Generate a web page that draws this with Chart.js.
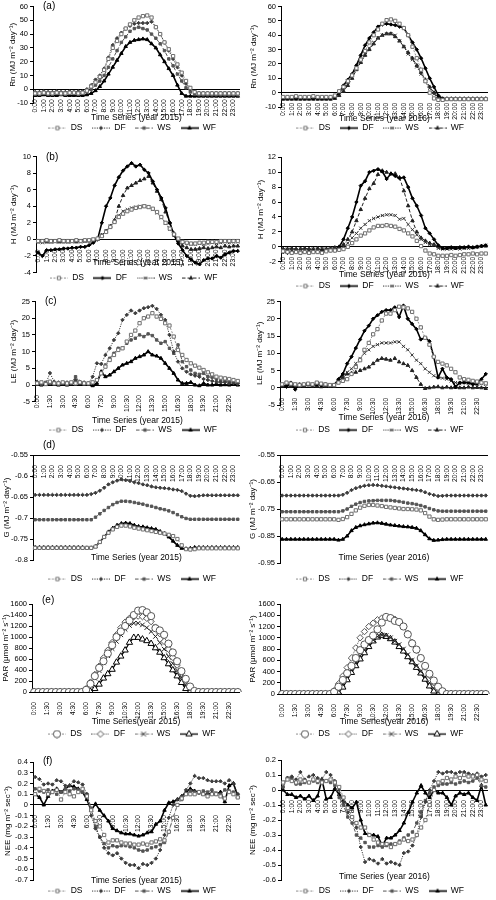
<!DOCTYPE html>
<html><head><meta charset="utf-8">
<script src="https://cdn.jsdelivr.net/npm/chart.js@4.4.1/dist/chart.umd.min.js"></script>
<style>
html,body{margin:0;padding:0;background:#fff;}
body{width:496px;height:900px;position:relative;overflow:hidden;}
.p{position:absolute;width:248px;}
</style></head><body>
<script>
// ---------- categories & series ----------
const TIMES = ['0:00','0:30','1:00','1:30','2:00','2:30','3:00','3:30','4:00','4:30','5:00','5:30','6:00','6:30','7:00','7:30','8:00','8:30','9:00','9:30','10:00','10:30','11:00','11:30','12:00','12:30','13:00','13:30','14:00','14:30','15:00','15:30','16:00','16:30','17:00','17:30','18:00','18:30','19:00','19:30','20:00','20:30','21:00','21:30','22:00','22:30','23:00','23:30'];
const SERIES = ['DS','DF','WS','WF'];

// ---------- y tick labels ----------
const Y_RN = [60,50,40,30,20,10,0,-10];
const Y_H15 = [10,8,6,4,2,0,-2,-4];
const Y_H16 = [12,10,8,6,4,2,0,-2];
const Y_LE = [25,20,15,10,5,0,-5];
const Y_G15 = [-0.55,-0.6,-0.65,-0.7,-0.75,-0.8];
const Y_G16 = [-0.55,-0.65,-0.75,-0.85,-0.95];
const Y_PAR = [1600,1400,1200,1000,800,600,400,200,0];
const Y_NEE15 = [0.4,0.3,0.2,0.1,0,-0.1,-0.2,-0.3,-0.4,-0.5,-0.6,-0.7];
const Y_NEE16 = [0.2,0.1,0,-0.1,-0.2,-0.3,-0.4,-0.5,-0.6];

// ---------- (a) Rn ----------
const RN15_DS = [-3,-3,-2.5,-3,-3,-2.5,-3,-3,-2.5,-2.5,-3,-2.5,-1,2,5,9,14,22,30,35,40,44,47,50,52,53,53.5,52,45,40,34,29,24,18,12,6,1,-2,-3,-3,-3,-3,-3,-3,-3,-3,-3,-3];
const RN15_DF = [-2,-2,-1.5,-2,-2,-1.5,-2,-2,-1.5,-2,-1.5,-1.5,0,3,7,10,15,23,32,37,41,44,46,47.5,48,48,48,49,45,40,34,28,22,16,10,4,0,-2,-2.5,-2.5,-2.5,-2.5,-2.5,-2.5,-2.5,-2.5,-2.5,-2.5];
const RN15_WS = [-3.5,-3.5,-3,-3.5,-3.5,-3,-3.5,-3.5,-3,-3,-3.5,-3,-2,0,3,6,10,16,22,28,34,38,42,44,45,44,43,40,37,33,28,22,17,11,6,1,-2,-3.5,-4,-4,-4,-4,-4,-4,-4,-4,-4,-4];
const RN15_WF = [-4.5,-4.5,-4,-4.5,-4.5,-4.5,-4,-4.5,-4.5,-4.5,-4.5,-4.5,-4,-3,-1,2,6,11,16,21,26,31,34,35.5,36,36.5,36,33,30,25,20,15,10,3,-3,-5,-5,-5,-5,-5,-5,-5,-5,-5,-5,-5,-5,-5];
const RN16_DS = [-3,-3,-3,-2.5,-3,-3,-3,-2.5,-3,-3,-3,-3,-2,1,4,8,12,17,23,29,35,40,44,48,50.5,51,50,48,45,40,32,24,16,8,0,-4,-5,-5,-4.5,-4.5,-4.5,-4.5,-4.5,-4.5,-4.5,-4.5,-4.5,-4.5];
const RN16_DF = [-4,-4,-4,-4,-4,-4,-4,-4,-4,-4,-4,-4,-3,0,5,9,13,19,26,33,38,42,46,47.5,48,47.5,47,46,45,40,35,30,24,17,10,4,-2,-4,-4,-4,-4,-4,-4,-4,-4,-4,-4,-4];
const RN16_WS = [-4,-4,-4,-4,-4,-4,-4,-4,-4,-4,-4,-4,-3,0,3,7,12,17,22,27,31,35,38,40,41,41,40,36,32,27,23,18,13,8,3,-1,-4,-4.5,-4.5,-4.5,-4.5,-4.5,-4.5,-4.5,-4.5,-4.5,-4.5,-4.5];
const RN16_WF = [-4.5,-4.5,-4.5,-4.5,-4.5,-4.5,-4.5,-4.5,-4.5,-4.5,-4.5,-4.5,-4,-2,1,5,10,16,21,26,30,34,38,40,41,41,39,36,32,28,24,19,14,9,4,0,-3,-4.5,-4.5,-4.5,-4.5,-4.5,-4.5,-4.5,-4.5,-4.5,-4.5,-4.5];

// ---------- (b) H ----------
const H15_DS = [-0.2,-0.2,-0.1,-0.2,-0.2,-0.1,-0.2,-0.2,-0.2,-0.1,-0.2,-0.1,-0.1,0,0.1,0.4,0.9,1.5,2.1,2.7,3.1,3.4,3.6,3.8,3.9,4.0,3.9,3.7,3.3,2.7,2.0,1.3,0.6,0.1,-0.3,-0.4,-0.5,-0.5,-0.4,-0.4,-0.3,-0.3,-0.3,-0.2,-0.2,-0.2,-0.2,-0.2];
const H15_DF = [-1.6,-2.0,-1.3,-1.3,-1.2,-1.2,-1.1,-1.1,-1.0,-1.0,-0.9,-0.9,-0.7,-0.4,0,2.0,4.0,5.0,6.5,7.5,8.3,8.8,9.2,8.8,9.0,8.4,8.0,7.0,6.0,5.0,3.8,2.0,0.5,-0.5,-1.3,-2.0,-2.4,-2.8,-3.0,-2.5,-2.3,-2.3,-2.0,-2.2,-1.8,-1.6,-1.4,-1.4];
const H15_WS = [-0.3,-0.4,-0.3,-0.3,-0.3,-0.3,-0.2,-0.3,-0.3,-0.2,-0.3,-0.2,-0.1,0,0.1,0.5,1.0,1.6,2.3,2.9,3.4,3.6,3.8,3.9,4.0,4.0,3.9,3.6,3.2,2.6,2.0,1.2,0.5,0,-0.3,-0.5,-0.6,-0.6,-0.5,-0.6,-0.5,-0.4,-0.5,-0.4,-0.3,-0.4,-0.3,-0.3];
const H15_WF = [-0.3,-0.2,-0.3,-0.3,-0.2,-0.3,-0.3,-0.3,-0.2,-0.3,-0.2,-0.2,-0.2,-0.1,0,0.5,1.0,1.6,2.3,4.0,5.3,6.2,6.5,6.8,7.1,7.3,7.6,6.8,5.8,4.8,3.3,2.0,0.7,-0.2,-0.8,-1.0,-1.2,-1.2,-1.1,-1.0,-1.1,-1.0,-0.9,-1.0,-0.8,-0.9,-0.8,-0.8];
const H16_DS = [-0.6,-0.7,-0.8,-0.7,-0.8,-0.7,-0.8,-0.7,-0.7,-0.8,-0.6,-0.5,-0.5,-0.4,-0.3,0,0.5,1.0,1.5,1.8,2.2,2.6,2.8,2.8,2.9,2.8,2.7,2.4,2.2,1.8,1.4,0.8,0.1,-0.5,-0.9,-1.0,-1.2,-1.2,-1.2,-1.1,-1.2,-1.1,-1.0,-1.0,-0.9,-1.0,-0.9,-0.9];
const H16_DF = [-0.7,-0.8,-0.7,-0.7,-0.8,-0.7,-0.7,-0.6,-0.7,-0.6,-0.6,-0.5,-0.5,0,1.0,2.5,4.0,6.0,8.2,8.8,10.0,10.2,10.4,10.1,9.1,9.8,9.5,9.2,9.3,8.0,6.5,5.5,4.2,2.5,1.8,1.0,0.2,-0.2,-0.2,-0.1,-0.2,-0.1,-0.1,0,-0.1,0,0.1,0.2];
const H16_WS = [-0.4,-0.3,-0.4,-0.4,-0.3,-0.4,-0.4,-0.3,-0.4,-0.3,-0.3,-0.3,-0.2,-0.1,0,0.5,1.2,1.8,2.5,3.0,3.5,3.8,4.0,4.2,4.3,4.3,4.2,3.7,3.8,3.0,2.3,1.6,1.0,0.6,0.3,0.2,-0.2,-0.3,-0.3,-0.3,-0.2,-0.3,-0.2,-0.2,-0.1,0,0.1,0.2];
const H16_WF = [-0.3,-0.3,-0.2,-0.3,-0.3,-0.2,-0.3,-0.3,-0.2,-0.3,-0.3,-0.2,-0.1,0,0.3,1.0,2.0,3.5,5.0,6.5,7.8,8.5,9.7,10.2,10.0,9.8,9.8,9.3,7.5,5.5,3.5,2.0,1.2,0.8,0.5,0.3,0,-0.2,-0.2,-0.1,-0.2,-0.1,-0.1,0,-0.1,0,0.1,0.1];

// ---------- (c) LE ----------
const LE15_DS = [0.5,0.8,0.3,1.0,0.5,0.5,0.8,0.5,0.8,0.5,0.8,0.5,0.5,0.8,1.5,3.5,5.5,7.5,9.0,10.5,11.0,13.0,15.0,16.3,18.5,20.0,20.5,21.5,20.5,19.8,18.5,17.8,14.5,10.5,9.0,7.5,6.5,5.8,5.2,4.5,3.8,3.2,2.5,2.2,2.0,1.8,1.5,1.2];
const LE15_DF = [1.0,0.5,0.3,3.6,1.0,0.8,0.5,0.8,0.6,1.5,1.0,0.8,0.5,2.5,6.5,6.3,9.0,11.0,13.5,15.5,19.5,21.0,22.3,21.5,22.3,23.0,23.3,23.7,22.8,21.0,19.5,15.0,10.0,7.0,5.0,4.0,3.2,2.8,2.5,1.8,1.5,1.2,1.0,0.8,0.8,0.5,0.6,0.4];
const LE15_WS = [0.5,0.3,0.8,0.5,0.5,0.3,0.5,0.2,0.5,2.5,0.8,0.5,0.5,0.8,1.5,3.5,6.0,8.0,9.5,11.0,11.0,12.5,13.5,14.0,15.0,14.5,15.3,14.8,13.5,12.5,13.0,11.0,9.5,12.0,7.0,5.5,4.5,3.5,3.2,3.5,2.5,2.3,1.8,1.2,1.2,1.0,0.8,0.6];
const LE15_WF = [0.2,0,0.3,0.5,0.2,0,0.3,0,0.2,1.0,0.5,0.3,0.2,-0.2,0.5,4.0,2.5,3.0,4.0,5.0,6.0,6.5,7.0,8.0,8.5,9.0,10.0,9.0,8.7,8.0,6.5,5.0,3.5,1.5,0.5,0.5,0.8,0,-0.2,0.5,0,0,0.2,0,0.1,0,0.2,0];
const LE16_DS = [1.0,1.5,1.2,1.0,0.8,1.0,1.2,1.0,1.5,1.2,1.0,0.8,0.8,1.5,2.0,2.5,4.0,6.0,8.0,11.0,13.0,15.5,17.0,19.5,21.5,21.5,22.5,23.5,23.3,23.0,22.0,20.0,17.5,14.5,12.5,9.0,7.5,7.0,6.5,5.5,4.5,3.0,2.5,2.3,2.0,1.8,1.5,1.3];
const LE16_DF = [0.8,0.3,1.5,-0.5,1.0,0.8,1.0,0.8,1.0,0.8,1.0,0.5,0.8,2.5,4.0,7.0,9.0,11.5,14.0,16.5,18.0,20.0,21.0,22.0,22.5,22.5,23.3,20.5,23.8,20.0,18.5,17.0,14.0,14.5,13.5,9.0,3.0,5.5,3.0,2.5,0.3,1.5,1.5,1.5,1.0,1.2,2.5,4.0];
const LE16_WS = [1.0,1.2,0.8,1.0,1.0,0.8,1.0,1.0,0.8,1.0,0.8,0.8,0.8,2.0,3.5,4.5,5.5,7.0,8.5,10.0,11.0,12.0,12.5,13.0,13.0,13.0,13.3,13.3,12.0,11.0,9.5,8.0,7.0,5.5,4.5,3.5,3.0,2.8,2.5,2.0,1.5,1.2,1.5,1.3,1.2,1.0,1.2,1.0];
const LE16_WF = [0.5,0.8,0.5,0.3,0.5,0.5,0.8,0.5,0.5,0.3,0.5,0.5,0.5,2.0,3.0,4.0,4.2,4.5,5.0,5.5,6.0,7.0,8.0,8.5,8.3,8.0,8.5,7.5,7.0,6.5,5.0,3.0,1.0,-0.2,0,0.2,0.3,0,0.2,0,0.1,0,0,0.2,0,0.1,0,-0.2];

// ---------- (d) G ----------
const G15_DS = [-0.771,-0.771,-0.771,-0.771,-0.771,-0.771,-0.771,-0.771,-0.771,-0.771,-0.771,-0.771,-0.771,-0.771,-0.768,-0.757,-0.745,-0.735,-0.727,-0.721,-0.718,-0.718,-0.72,-0.723,-0.725,-0.727,-0.729,-0.731,-0.733,-0.735,-0.737,-0.74,-0.743,-0.75,-0.765,-0.774,-0.775,-0.774,-0.772,-0.772,-0.772,-0.772,-0.772,-0.772,-0.772,-0.772,-0.772,-0.772];
const G15_DF = [-0.645,-0.645,-0.645,-0.645,-0.645,-0.645,-0.645,-0.645,-0.645,-0.645,-0.645,-0.645,-0.645,-0.643,-0.64,-0.635,-0.628,-0.62,-0.615,-0.611,-0.608,-0.61,-0.612,-0.615,-0.617,-0.62,-0.622,-0.625,-0.627,-0.628,-0.629,-0.63,-0.632,-0.633,-0.636,-0.642,-0.647,-0.648,-0.647,-0.646,-0.646,-0.646,-0.646,-0.646,-0.646,-0.646,-0.646,-0.646];
const G15_WS = [-0.704,-0.704,-0.704,-0.704,-0.704,-0.704,-0.704,-0.704,-0.704,-0.704,-0.704,-0.704,-0.704,-0.704,-0.698,-0.69,-0.682,-0.675,-0.668,-0.663,-0.66,-0.66,-0.661,-0.663,-0.665,-0.667,-0.67,-0.672,-0.675,-0.678,-0.68,-0.683,-0.687,-0.692,-0.697,-0.701,-0.703,-0.703,-0.703,-0.703,-0.703,-0.703,-0.703,-0.703,-0.703,-0.703,-0.703,-0.703];
const G15_WF = [-0.77,-0.77,-0.77,-0.77,-0.77,-0.77,-0.77,-0.77,-0.77,-0.77,-0.77,-0.77,-0.771,-0.771,-0.768,-0.757,-0.745,-0.733,-0.724,-0.717,-0.713,-0.712,-0.713,-0.717,-0.72,-0.721,-0.723,-0.725,-0.727,-0.732,-0.737,-0.745,-0.755,-0.765,-0.772,-0.773,-0.772,-0.77,-0.77,-0.77,-0.77,-0.77,-0.77,-0.77,-0.77,-0.77,-0.77,-0.77];
const G16_DS = [-0.788,-0.788,-0.788,-0.788,-0.788,-0.788,-0.788,-0.788,-0.788,-0.788,-0.788,-0.788,-0.788,-0.79,-0.787,-0.78,-0.768,-0.755,-0.745,-0.738,-0.735,-0.735,-0.737,-0.739,-0.742,-0.744,-0.746,-0.748,-0.75,-0.75,-0.751,-0.752,-0.755,-0.765,-0.778,-0.788,-0.79,-0.789,-0.788,-0.788,-0.788,-0.788,-0.788,-0.788,-0.788,-0.788,-0.788,-0.788];
const G16_DF = [-0.70,-0.70,-0.70,-0.70,-0.70,-0.70,-0.70,-0.70,-0.70,-0.70,-0.70,-0.70,-0.70,-0.70,-0.697,-0.69,-0.68,-0.673,-0.668,-0.664,-0.662,-0.661,-0.662,-0.664,-0.666,-0.668,-0.67,-0.672,-0.674,-0.676,-0.678,-0.68,-0.682,-0.688,-0.694,-0.698,-0.702,-0.701,-0.70,-0.70,-0.70,-0.70,-0.70,-0.70,-0.70,-0.70,-0.70,-0.70];
const G16_WS = [-0.76,-0.76,-0.76,-0.76,-0.76,-0.76,-0.76,-0.76,-0.76,-0.76,-0.76,-0.76,-0.76,-0.76,-0.757,-0.75,-0.74,-0.732,-0.726,-0.722,-0.72,-0.719,-0.718,-0.718,-0.718,-0.718,-0.72,-0.722,-0.725,-0.728,-0.73,-0.733,-0.737,-0.742,-0.748,-0.753,-0.757,-0.758,-0.758,-0.758,-0.758,-0.758,-0.758,-0.758,-0.758,-0.758,-0.758,-0.758];
const G16_WF = [-0.862,-0.862,-0.862,-0.862,-0.862,-0.862,-0.862,-0.862,-0.862,-0.862,-0.862,-0.862,-0.862,-0.865,-0.862,-0.85,-0.83,-0.818,-0.812,-0.808,-0.805,-0.802,-0.801,-0.803,-0.806,-0.809,-0.811,-0.813,-0.815,-0.816,-0.818,-0.821,-0.83,-0.845,-0.86,-0.866,-0.865,-0.863,-0.862,-0.862,-0.862,-0.862,-0.862,-0.862,-0.862,-0.862,-0.862,-0.862];

// ---------- (e) PAR ----------
const PAR15_DS = [0,0,0,0,0,0,0,0,0,0,0,0,40,150,290,440,560,700,850,1000,1100,1200,1300,1400,1480,1490,1450,1380,1160,1120,1040,880,720,560,380,240,100,20,0,0,0,0,0,0,0,0,0,0];
const PAR15_DF = [0,0,0,0,0,0,0,0,0,0,0,0,60,180,320,470,620,760,900,1040,1170,1270,1340,1370,1380,1370,1340,1280,1180,1060,920,780,630,490,340,200,80,20,0,0,0,0,0,0,0,0,0,0];
const PAR15_WS = [0,0,0,0,0,0,0,0,0,0,0,0,20,120,250,390,530,660,790,920,1040,1140,1210,1250,1250,1220,1170,1100,1010,900,780,650,520,390,260,140,50,0,0,0,0,0,0,0,0,0,0,0];
const PAR15_WF = [0,0,0,0,0,0,0,0,0,0,0,0,0,10,60,140,250,330,410,540,650,760,900,990,990,960,930,880,800,720,620,510,400,290,170,60,10,0,0,0,0,0,0,0,0,0,0,0];
const PAR16_DS = [0,0,0,0,0,0,0,0,0,0,0,0,40,130,250,370,500,640,780,880,960,1040,1150,1270,1370,1350,1300,1280,1200,1060,900,790,640,500,360,240,130,50,0,0,0,0,0,0,0,0,0,0];
const PAR16_DF = [0,0,0,0,0,0,0,0,0,0,0,0,60,180,320,470,640,820,1000,1110,1200,1260,1320,1350,1380,1360,1330,1270,1200,1080,920,780,620,480,330,200,90,20,0,0,0,0,0,0,0,0,0,0];
const PAR16_WS = [0,0,0,0,0,0,0,0,0,0,0,0,10,60,170,300,420,550,680,780,880,960,1020,1050,1040,1000,940,880,800,700,600,500,400,300,200,100,30,0,0,0,0,0,0,0,0,0,0,0];
const PAR16_WF = [0,0,0,0,0,0,0,0,0,0,0,0,0,30,120,250,380,500,620,730,840,940,1010,1040,1020,980,920,840,760,660,570,470,370,260,140,50,0,0,0,0,0,0,0,0,0,0,0,0];

// ---------- (f) NEE ----------
const NEE15_DS = [0.1,0.15,0.13,0.1,0.12,0.14,0.05,0.12,0.1,0.08,0.12,0.15,0.08,-0.05,-0.15,-0.2,-0.28,-0.35,-0.33,-0.33,-0.35,-0.36,-0.36,-0.37,-0.37,-0.36,-0.37,-0.35,-0.34,-0.32,-0.33,-0.25,-0.12,0.0,0.06,0.1,0.1,0.1,0.12,0.1,0.08,0.1,0.1,0.08,0.06,0.12,0.1,0.07];
const NEE15_DF = [0.26,0.24,0.19,0.2,0.19,0.23,0.22,0.18,0.18,0.22,0.21,0.19,0.1,-0.1,-0.22,-0.3,-0.4,-0.45,-0.47,-0.45,-0.5,-0.54,-0.56,-0.56,-0.59,-0.55,-0.56,-0.54,-0.5,-0.42,-0.28,-0.12,0.0,0.05,0.08,0.14,0.2,0.27,0.25,0.25,0.23,0.22,0.22,0.22,0.2,0.23,0.2,0.1];
const NEE15_WS = [0.15,0.13,0.12,0.14,0.12,0.1,0.12,0.15,0.13,0.15,0.14,0.12,0.1,-0.03,-0.2,-0.3,-0.36,-0.4,-0.38,-0.39,-0.38,-0.38,-0.39,-0.4,-0.42,-0.43,-0.42,-0.4,-0.39,-0.37,-0.35,-0.25,-0.12,0.0,0.05,0.1,0.13,0.12,0.11,0.13,0.12,0.14,0.11,0.1,0.14,0.13,0.12,0.1];
const NEE15_WF = [0.1,0.07,0.0,0.08,0.13,0.15,0.12,0.15,0.18,0.17,0.15,0.12,0.05,-0.05,0.01,-0.05,-0.1,-0.15,-0.22,-0.24,-0.26,-0.27,-0.27,-0.28,-0.29,-0.28,-0.26,-0.25,-0.18,-0.15,-0.05,0.02,0.03,0.05,0.08,0.12,0.15,0.13,0.12,0.1,0.1,0.11,0.1,0.12,0.03,0.18,0.2,0.08];
const NEE16_DS = [0.05,0.07,0.06,0.05,0.07,0.06,0.05,0.07,0.06,0.05,0.06,0.07,0.05,0.02,-0.05,-0.12,-0.18,-0.22,-0.25,-0.25,-0.3,-0.33,-0.35,-0.36,-0.36,-0.38,-0.36,-0.35,-0.33,-0.34,-0.33,-0.3,-0.25,-0.2,-0.1,0.0,0.05,0.06,0.08,0.07,0.09,0.08,0.1,0.09,0.09,0.1,0.07,0.06];
const NEE16_DF = [0.05,0.08,0.09,0.07,0.12,0.07,0.09,0.1,0.08,0.07,0.12,0.1,0.06,0.0,-0.08,-0.15,-0.18,-0.25,-0.38,-0.48,-0.46,-0.47,-0.49,-0.46,-0.49,-0.48,-0.49,-0.5,-0.42,-0.41,-0.37,-0.3,-0.18,-0.08,0.0,0.06,0.12,0.11,0.12,0.12,0.11,0.12,0.12,0.11,0.1,0.11,0.09,0.1];
const NEE16_WS = [0.02,0.08,0.08,0.04,0.04,0.05,0.05,0.06,0.05,0.06,0.06,0.05,0.03,-0.05,-0.1,-0.18,-0.22,-0.3,-0.32,-0.35,-0.38,-0.38,-0.37,-0.38,-0.37,-0.36,-0.36,-0.34,-0.32,-0.3,-0.28,-0.22,-0.15,-0.07,-0.02,0.02,0.03,0.04,0.04,0.05,0.04,0.05,0.06,0.05,0.06,0.08,0.03,0.02];
const NEE16_WF = [0.0,-0.03,-0.03,-0.05,-0.04,-0.06,-0.04,-0.07,-0.04,0.07,-0.06,-0.05,0.01,-0.03,-0.07,-0.1,-0.12,-0.08,-0.2,-0.29,-0.3,-0.3,-0.31,-0.37,-0.32,-0.32,-0.3,-0.27,-0.22,-0.15,-0.08,-0.02,0.03,-0.02,-0.05,0.0,-0.02,-0.02,-0.05,-0.1,-0.04,-0.02,-0.03,-0.02,-0.05,-0.07,0.03,-0.1];

// ---------- styles ----------
const FONT = '"Liberation Sans", Arial, Helvetica, sans-serif';
const STY = {
  DS:  {line:'#8f8f8f', bw:1,   dash:[2,1.5],   ps:'rect',     r:2.3, fill:'#fff',    pb:'#6e6e6e'},
  DFd: {line:'#3c3c3c', bw:1,   dash:[1.2,1.2], ps:'rectRot',  r:1.7, fill:'#3c3c3c', pb:'#3c3c3c'},
  DFs: {line:'#000',    bw:1.6, dash:[],        ps:'rectRot',  r:1.7, fill:'#000',    pb:'#000'},
  WSq: {line:'#555',    bw:1,   dash:[3.5,2],   ps:'rect',     r:1.7, fill:'#555',    pb:'#555'},
  WSx: {line:'#333',    bw:1,   dash:[1.2,1.2], ps:'crossRot', r:2.2, fill:'#333',    pb:'#333'},
  WFs: {line:'#000',    bw:1.6, dash:[],        ps:'triangle', r:2,   fill:'#000',    pb:'#000'},
  WFd: {line:'#222',    bw:1,   dash:[3.5,2],   ps:'triangle', r:2,   fill:'#222',    pb:'#222'},
  DSe: {line:'#8f8f8f', bw:1,   dash:[2,1.5],   ps:'circle',   r:3.6, fill:'#fff',    pb:'#555'},
  DFe: {line:'#555',    bw:1,   dash:[1.2,1.2], ps:'rectRot',  r:3.2, fill:'#fff',    pb:'#555'},
  WSe: {line:'#777',    bw:1,   dash:[3.5,2],   ps:'crossRot', r:3.2, fill:'#fff',    pb:'#222'},
  WFe: {line:'#000',    bw:1.3, dash:[],        ps:'triangle', r:3.6, fill:'#fff',    pb:'#000'}
};
const SET_A = [STY.DS, STY.DFd, STY.WSq, STY.WFs];
const SET_B = [STY.DS, STY.DFs, STY.WSx, STY.WFd];
const SET_E = [STY.DSe, STY.DFe, STY.WSe, STY.WFe];

const PANELS = [
 {g:{L:0,T:0,padL:8.2,axisX:33,top:5,bot:103,tY:118,lY:128}, data:[RN15_DS,RN15_DF,RN15_WS,RN15_WF], sty:SET_A, yt:Y_RN, yTitle:'Rn (MJ m\u207B\u00B2 day\u207B\u00B9)', xTitle:'Time Series (year 2015)', step:2, axisAt:0, tag:'(a)', tagY:6},
 {g:{L:248,T:0,padL:1.2,axisX:33,top:5,bot:107,tY:119,lY:128}, data:[RN16_DS,RN16_DF,RN16_WS,RN16_WF], sty:SET_B, yt:Y_RN, yTitle:'Rn (MJ m\u207B\u00B2 day\u207B\u00B9)', xTitle:'Time Series (year 2016)', step:2, axisAt:0},
 {g:{L:0,T:150,padL:9.2,axisX:36,top:5.5,bot:122.5,tY:113,lY:128}, data:[H15_DS,H15_DF,H15_WS,H15_WF], sty:SET_B, yt:Y_H15, yTitle:'H (MJ m\u207B\u00B2 day\u207B\u00B9)', xTitle:'Time Series (year 2015)', step:2, axisAt:0, tag:'(b)', tagY:7},
 {g:{L:248,T:150,padL:8.2,axisX:33,top:7.3,bot:111.7,tY:125,lY:136}, data:[H16_DS,H16_DF,H16_WS,H16_WF], sty:SET_B, yt:Y_H16, yTitle:'H (MJ m\u207B\u00B2 day\u207B\u00B9)', xTitle:'Time Series (year 2016)', step:2, axisAt:0},
 {g:{L:0,T:295,padL:9.2,axisX:35,top:5.7,bot:106.7,tY:126,lY:135}, data:[LE15_DS,LE15_DF,LE15_WS,LE15_WF], sty:SET_A, yt:Y_LE, yTitle:'LE (MJ m\u207B\u00B2 day\u207B\u00B9)', xTitle:'Time Series (year 2015)', step:3, axisAt:0, tag:'(c)', tagY:6},
 {g:{L:248,T:295,padL:7.2,axisX:32,top:5,bot:110,tY:123,lY:135}, data:[LE16_DS,LE16_DF,LE16_WS,LE16_WF], sty:SET_B, yt:Y_LE, yTitle:'LE (MJ m\u207B\u00B2 day\u207B\u00B9)', xTitle:'Time Series (year 2016)', step:3, axisAt:0},
 {g:{L:0,T:440,padL:2.2,axisX:33,top:15,bot:120,tY:118,lY:139}, data:[G15_DS,G15_DF,G15_WS,G15_WF], sty:SET_A, yt:Y_G15, yTitle:'G (MJ m\u207B\u00B2 day\u207B\u00B9)', xTitle:'Time Series (year 2015)', step:2, axisAt:-0.55, tag:'(d)', tagY:5},
 {g:{L:248,T:440,padL:0.2,axisX:32,top:15,bot:123,tY:118,lY:139}, data:[G16_DS,G16_DF,G16_WS,G16_WF], sty:SET_A, yt:Y_G16, yTitle:'G (MJ m\u207B\u00B2 day\u207B\u00B9)', xTitle:'Time Series (year 2016)', step:2, axisAt:-0.55},
 {g:{L:0,T:585,padL:1.2,axisX:32,top:19,bot:107,tY:137,lY:149}, data:[PAR15_DS,PAR15_DF,PAR15_WS,PAR15_WF], sty:SET_E, yt:Y_PAR, yTitle:'PAR (\u03BCmol m\u207B\u00B2 s\u207B\u00B9)', xTitle:'Time Series(year 2015)', step:3, axisAt:0, tag:'(e)', tagY:15},
 {g:{L:248,T:585,padL:0.2,axisX:32,top:19,bot:109,tY:137,lY:149}, data:[PAR16_DS,PAR16_DF,PAR16_WS,PAR16_WF], sty:SET_E, yt:Y_PAR, yTitle:'PAR (\u03BCmol m\u207B\u00B2 s\u207B\u00B9)', xTitle:'Time Series(year 2016)', step:3, axisAt:0},
 {g:{L:0,T:745,padL:3.2,axisX:33,top:17,bot:135,tY:136,lY:146}, data:[NEE15_DS,NEE15_DF,NEE15_WS,NEE15_WF], sty:SET_A, yt:Y_NEE15, yTitle:'NEE (mg m\u207B\u00B2 sec\u207B\u00B9)', xTitle:'Time Series (year 2015)', step:3, axisAt:0, tag:'(f)', tagY:16},
 {g:{L:248,T:745,padL:0.2,axisX:33,top:15,bot:135,tY:132,lY:146}, data:[NEE16_DS,NEE16_DF,NEE16_WS,NEE16_WF], sty:SET_A, yt:Y_NEE16, yTitle:'NEE (mg m\u207B\u00B2 sec\u207B\u00B9)', xTitle:'Time Series (year 2016)', step:2, axisAt:0}
];

// ---------- helpers ----------
function marker(g, ps, x, y, r) {
  g.beginPath();
  if (ps === 'circle') { g.arc(x, y, r, 0, Math.PI * 2); }
  else if (ps === 'rect') { const s = r * Math.SQRT1_2; g.rect(x - s, y - s, 2 * s, 2 * s); }
  else if (ps === 'rectRot') { g.moveTo(x, y - r); g.lineTo(x + r, y); g.lineTo(x, y + r); g.lineTo(x - r, y); g.closePath(); }
  else if (ps === 'triangle') { g.moveTo(x, y - r); g.lineTo(x + r * 0.866, y + r * 0.5); g.lineTo(x - r * 0.866, y + r * 0.5); g.closePath(); }
  else if (ps === 'crossRot') { const s = r * 0.707; g.moveTo(x - s, y - s); g.lineTo(x + s, y + s); g.moveTo(x + s, y - s); g.lineTo(x - s, y + s); }
  if (ps !== 'crossRot') g.fill();
  g.stroke();
}
function sample(st) {
  const w = 18, h = 9;
  const c = document.createElement('canvas'); c.width = w; c.height = h;
  const g = c.getContext('2d');
  g.strokeStyle = st.line; g.lineWidth = st.bw; g.setLineDash(st.dash);
  g.beginPath(); g.moveTo(0, h / 2); g.lineTo(w, h / 2); g.stroke();
  g.setLineDash([]); g.fillStyle = st.fill; g.strokeStyle = st.pb; g.lineWidth = 1;
  marker(g, st.ps, w / 2, h / 2, Math.min(st.r, 3.6));
  return c;
}

Chart.defaults.font.family = FONT;
Chart.defaults.color = '#000';
Chart.defaults.animation = false;

const tagPlugin = {
  id: 'tag',
  afterDraw(chart, args, opts) {
    if (!opts || !opts.text) return;
    const ctx = chart.ctx;
    ctx.save();
    ctx.font = '10px ' + FONT;
    ctx.fillStyle = '#000';
    ctx.textBaseline = 'middle';
    ctx.fillText(opts.text, chart.chartArea.left + 10, opts.y);
    ctx.restore();
  }
};
Chart.register(tagPlugin);

const FS = 8.5, LP = 1, LH = FS * 1.2;

PANELS.forEach((P) => {
  const g = P.g;
  const legTop = g.lY - LP - FS / 2;
  const H = legTop + FS + LP + 10;
  const tH = Math.max(0, legTop - g.bot);
  const pt = g.tY - g.bot - LH / 2;
  const pbm = tH - LH - pt;
  const div = document.createElement('div');
  div.className = 'p';
  div.style.left = g.L + 'px'; div.style.top = g.T + 'px'; div.style.height = H + 'px';
  const cv = document.createElement('canvas');
  div.appendChild(cv); document.body.appendChild(div);
  const samples = P.sty.map(sample);
  const yW = g.axisX - g.padL;
  const step = P.step;
  new Chart(cv, {
    type: 'line',
    data: {
      labels: TIMES,
      datasets: SERIES.map((name, i) => {
        const st = P.sty[i];
        return {
          label: name, data: P.data[i],
          borderColor: st.line, borderWidth: st.bw, borderDash: st.dash,
          pointStyle: st.ps, pointRadius: st.r, pointBackgroundColor: st.fill,
          pointBorderColor: st.pb, pointBorderWidth: 1, fill: false, tension: 0
        };
      })
    },
    options: {
      responsive: true, maintainAspectRatio: false, animation: false,
      layout: { padding: { left: g.padL, top: g.top, right: 3, bottom: 0 } },
      scales: {
        x: {
          type: 'category', offset: true, position: { y: P.axisAt },
          grid: { display: false },
          border: { display: true, color: '#000', width: 1 },
          ticks: {
            autoSkip: false, minRotation: 90, maxRotation: 90, padding: 2,
            font: { size: 6.8 }, color: '#000',
            callback: (v, i) => (i % step === 0 ? TIMES[i] : '')
          }
        },
        y: {
          min: Math.min(...P.yt), max: Math.max(...P.yt),
          afterBuildTicks: (s) => { s.ticks = P.yt.map(v => ({ value: v })); },
          afterFit: (s) => { s.width = yW; },
          grid: { display: true, drawOnChartArea: false, drawTicks: true, tickLength: 3, color: '#000' },
          border: { display: true, color: '#000', width: 1 },
          ticks: { autoSkip: false, font: { size: 7.5 }, color: '#000', padding: 2, callback: (v) => String(Math.round(v * 1000) / 1000) },
          title: { display: true, text: P.yTitle, font: { size: 8 }, color: '#000', padding: 0 }
        }
      },
      plugins: {
        tooltip: { enabled: false },
        title: {
          display: true, text: P.xTitle, position: 'bottom', fullSize: false, weight: 500,
          font: { size: FS, weight: 'normal' }, color: '#000', padding: { top: pt, bottom: pbm }
        },
        legend: {
          display: true, position: 'bottom', fullSize: false,
          labels: {
            usePointStyle: true, pointStyleWidth: 18, boxHeight: FS, padding: LP,
            font: { size: FS }, color: '#000',
            generateLabels: (chart) => chart.data.datasets.map((ds, i) => ({
              text: ds.label + '\u2002\u2002', pointStyle: samples[i], datasetIndex: i,
              hidden: false, lineWidth: 0, fillStyle: '#000', strokeStyle: '#000', fontColor: '#000'
            }))
          }
        },
        tag: { text: P.tag || '', y: P.tagY || 0 }
      }
    }
  });
});
</script>
</body></html>
